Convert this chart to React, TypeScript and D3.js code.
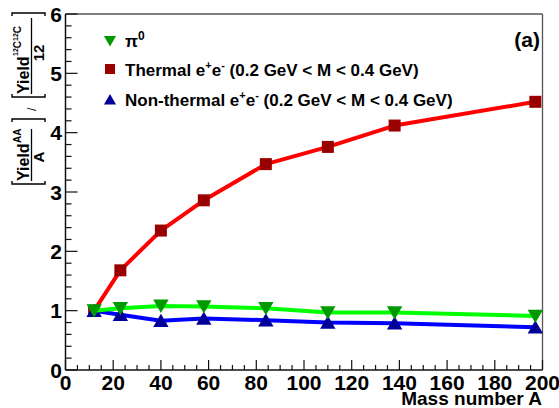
import React from "react";
import * as d3 from "d3";

const massNumbers = [12, 23, 40, 58, 84, 110, 138, 197];
const pi0Ratio = [1.0, 1.04, 1.08, 1.07, 1.04, 0.97, 0.97, 0.91];
const thermalRatio = [1.0, 1.68, 2.35, 2.86, 3.47, 3.76, 4.12, 4.52];
const nonThermalRatio = [1.0, 0.93, 0.83, 0.87, 0.84, 0.8, 0.79, 0.72];
const xTickLabels = [0, 20, 40, 60, 80, 100, 120, 140, 160, 180, 200];
const yTickLabels = [0, 1, 2, 3, 4, 5, 6];

const W = 559;
const H = 408;
const FONT = "'Liberation Sans', Arial, Helvetica, sans-serif";

export default function App() {
  const x = d3.scaleLinear().domain([0, 200]).range([65.5, 542.5]);
  const y = d3.scaleLinear().domain([0, 6]).range([370, 14]);
  const x0 = x.range()[0], x1 = x.range()[1];
  const y0 = y.range()[0], y1 = y.range()[1];

  const line = d3
    .line<[number, number]>()
    .x((d) => x(d[0]))
    .y((d) => y(d[1]));
  const pts = (vals: number[]) => massNumbers.map((m, i) => [m, vals[i]] as [number, number]);

  const xMinor = d3.range(0, 201, 5).filter((v) => v % 20 !== 0);
  const yMinor = d3.range(0, 6.001, 0.2).filter((v) => Math.abs(v - Math.round(v)) > 1e-6);

  const triDown = (cx: number, cy: number, s: number) =>
    `M${cx - s * 0.55},${cy - s * 0.45}L${cx + s * 0.55},${cy - s * 0.45}L${cx},${cy + s * 0.5}Z`;
  const triUp = (cx: number, cy: number, s: number) =>
    `M${cx - s * 0.55},${cy + s * 0.45}L${cx + s * 0.55},${cy + s * 0.45}L${cx},${cy - s * 0.5}Z`;

  const msz = 12;

  return (
    <svg
      width={W}
      height={H}
      style={{ position: "absolute", left: 0, top: 0, background: "#fff" }}
      fontFamily={FONT}
    >
      <rect x={0} y={0} width={W} height={H} fill="#fff" />
      {/* frame */}
      <line x1={x0} y1={y1} x2={x1} y2={y1} stroke="#555" strokeWidth={1.3} />
      <line x1={x1} y1={y1} x2={x1} y2={y0} stroke="#555" strokeWidth={1.3} />
      {/* axes */}
      <line x1={x0} y1={y0} x2={x1} y2={y0} stroke="#111" strokeWidth={1.5} />
      <line x1={x0} y1={y0} x2={x0} y2={y1} stroke="#111" strokeWidth={1.5} />
      {/* x ticks */}
      {xTickLabels.map((v) => (
        <line key={"xt" + v} x1={x(v)} x2={x(v)} y1={y0} y2={y0 - 10} stroke="#111" strokeWidth={1.2} />
      ))}
      {xMinor.map((v) => (
        <line key={"xm" + v} x1={x(v)} x2={x(v)} y1={y0} y2={y0 - 5} stroke="#111" strokeWidth={1.2} />
      ))}
      {xTickLabels.map((v) => (
        <text key={"xl" + v} x={x(v)} y={390} textAnchor="middle" fontSize={21} fontWeight="bold">
          {v}
        </text>
      ))}
      {/* y ticks */}
      {yTickLabels.map((v) => (
        <line key={"yt" + v} x1={x0} x2={x0 + 12} y1={y(v)} y2={y(v)} stroke="#111" strokeWidth={1.2} />
      ))}
      {yMinor.map((v) => (
        <line key={"ym" + v} x1={x0} x2={x0 + 6} y1={y(v)} y2={y(v)} stroke="#111" strokeWidth={1.2} />
      ))}
      {yTickLabels.map((v) => (
        <text key={"yl" + v} x={62} y={y(v) + 7.5} textAnchor="end" fontSize={21} fontWeight="bold">
          {v}
        </text>
      ))}
      {/* axis title */}
      <text x={542} y={405} textAnchor="end" fontSize={19} fontWeight="bold">
        Mass number A
      </text>

      {/* y axis title (rotated) */}
      <g transform="translate(0,185) rotate(-90)" fontWeight="bold" fill="#000">
        {/* first bracket */}
        <path d="M4,12L1,12L1,45L4,45" fill="none" stroke="#000" strokeWidth={1.4} />
        <path d="M63,12L66,12L66,45L63,45" fill="none" stroke="#000" strokeWidth={1.4} />
        <text x={4} y={29} fontSize={16}>
          Yield
        </text>
        <text x={42} y={21} fontSize={10}>
          AA
        </text>
        <line x1={4} x2={56} y1={31.5} y2={31.5} stroke="#000" strokeWidth={1.3} />
        <text x={28} y={44} fontSize={15} textAnchor="middle">
          A
        </text>
        {/* slash */}
        <text x={74} y={36} fontSize={12} fontWeight="normal">
          /
        </text>
        {/* second bracket */}
        <path d="M91,12L88,12L88,45L91,45" fill="none" stroke="#000" strokeWidth={1.4} />
        <path d="M169,12L172,12L172,45L169,45" fill="none" stroke="#000" strokeWidth={1.4} />
        <text x={91} y={29} fontSize={16}>
          Yield
        </text>
        <text x={129} y={21} fontSize={10}>
          <tspan fontSize={7} dy={-3}>12</tspan>
          <tspan dy={3}>C</tspan>
          <tspan fontSize={7} dy={-3}>12</tspan>
          <tspan dy={3}>C</tspan>
        </text>
        <line x1={91} x2={167} y1={31.5} y2={31.5} stroke="#000" strokeWidth={1.3} />
        <text x={132} y={44} fontSize={15} textAnchor="middle">
          12
        </text>
      </g>

      {/* thermal */}
      <path d={line(pts(thermalRatio)) ?? ""} fill="none" stroke="#ff0000" strokeWidth={4} strokeLinejoin="round" />
      {massNumbers.map((m, i) => (
        <rect
          key={"sq" + m}
          x={x(m) - msz / 2}
          y={y(thermalRatio[i]) - msz / 2}
          width={msz}
          height={msz}
          fill="#990000"
        />
      ))}
      {/* non-thermal */}
      <path d={line(pts(nonThermalRatio)) ?? ""} fill="none" stroke="#0000ff" strokeWidth={4} strokeLinejoin="round" />
      {massNumbers.map((m, i) => (
        <path key={"bt" + m} d={triUp(x(m), y(nonThermalRatio[i]), 14)} fill="#000099" />
      ))}
      {/* pi0 */}
      <path d={line(pts(pi0Ratio)) ?? ""} fill="none" stroke="#00ff00" strokeWidth={4} strokeLinejoin="round" />
      {massNumbers.map((m, i) => (
        <path key={"gt" + m} d={triDown(x(m), y(pi0Ratio[i]), 14)} fill="#009900" />
      ))}

      {/* legend */}
      <path d={triDown(110, 41, 11)} fill="#009900" />
      <text x={125} y={47} fontSize={17} fontWeight="bold">
        π<tspan fontSize={12} dy={-7}>0</tspan>
      </text>
      <rect x={105} y={64} width={10} height={10} fill="#990000" />
      <text x={125} y={76} fontSize={17} fontWeight="bold">
        Thermal e<tspan fontSize={11} dy={-7}>+</tspan>
        <tspan dy={7}>e</tspan>
        <tspan fontSize={11} dy={-7}>-</tspan>
        <tspan dy={7}> (0.2 GeV &lt; M &lt; 0.4 GeV)</tspan>
      </text>
      <path d={triUp(110, 99.5, 11)} fill="#000099" />
      <text x={125} y={106} fontSize={17} fontWeight="bold">
        Non-thermal e<tspan fontSize={11} dy={-7}>+</tspan>
        <tspan dy={7}>e</tspan>
        <tspan fontSize={11} dy={-7}>-</tspan>
        <tspan dy={7}> (0.2 GeV &lt; M &lt; 0.4 GeV)</tspan>
      </text>
      {/* panel label */}
      <text x={540} y={47} textAnchor="end" fontSize={21} fontWeight="bold">
        (a)
      </text>
    </svg>
  );
}
